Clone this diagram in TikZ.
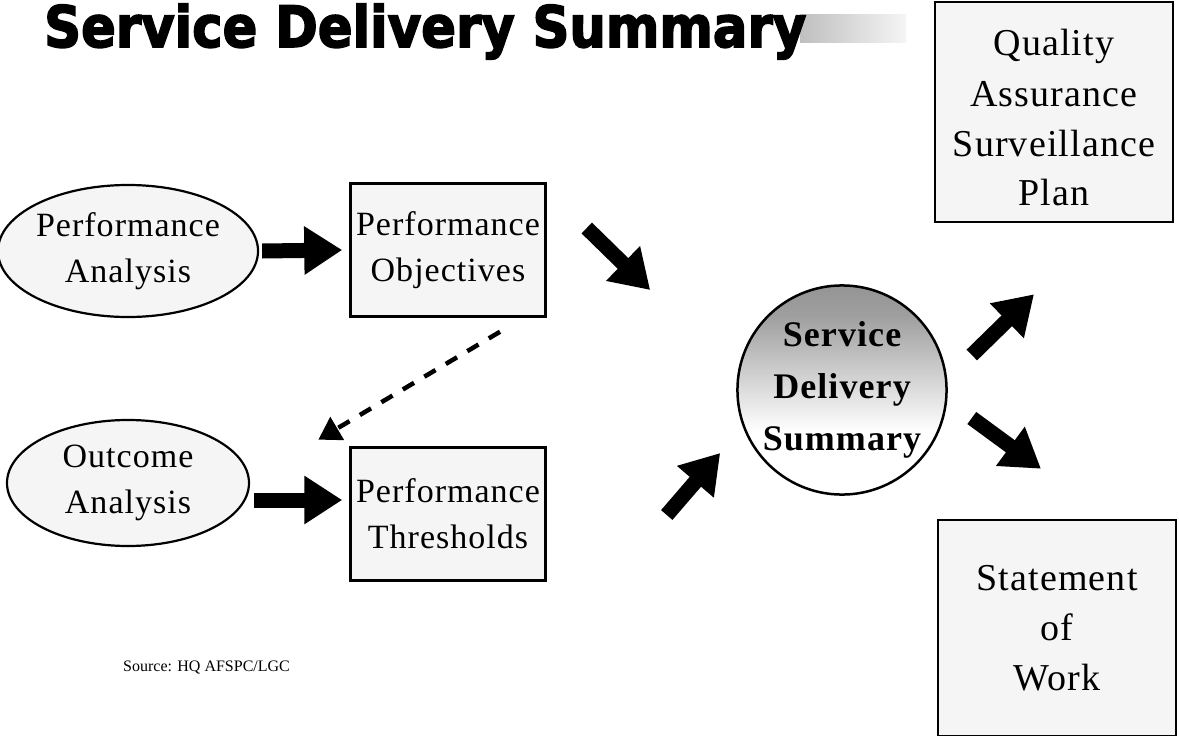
\documentclass[tikz,border=0pt]{standalone}
\usepackage{fontspec}
\setmainfont{Liberation Serif}
\newfontfamily\titlefont[FakeBold=3]{DejaVu Sans}
\newfontfamily\lblfont[LetterSpace=3]{Liberation Serif}
\usetikzlibrary{arrows.meta,calc,shapes.geometric}
\pgfdeclareverticalshading{sdsshade}{100bp}{color(0bp)=(white); color(40bp)=(white); color(68bp)=(black!38); color(100bp)=(black!55)}
\begin{document}
\begin{tikzpicture}[x=1pt,y=-1pt,
  lbl/.style={font=\lblfont\fontsize{34}{46}\selectfont, align=center, text=black},
  boxnode/.style={draw, line width=2.5pt, fill=black!4, minimum width=195pt, minimum height=133pt, inner sep=0pt, lbl},
  ovalnode/.style={ellipse, draw, line width=2.2pt, fill=black!4, minimum width=242pt, minimum height=132pt, inner sep=0pt, lbl},
  bigbox/.style={draw, line width=2.5pt, fill=black!4, minimum width=238pt, inner sep=0pt},
  bigtext/.style={lbl, font=\lblfont\fontsize{38}{50}\selectfont, inner sep=0pt},
  blockarrow/.style={line width=15pt, -{Triangle[length=38pt,width=46pt]}},
  dasharrow/.style={line width=4.5pt, dash pattern=on 13pt off 12pt, -{Triangle[length=22pt,width=26pt]}}
]
\useasboundingbox (0,0) rectangle (1179,736);
\fill[white] (0,0) rectangle (1179,736);

% title
\shade[left color=black!25, right color=black!4] (800,14) rectangle (906,42);
\node[anchor=base west, inner sep=0pt] (title) at (44,47)
  {\titlefont\bfseries\fontsize{57}{57}\selectfont\resizebox{762pt}{\height}{Service Delivery Summary}};

% nodes
\node[bigbox, minimum height=220pt] (qasp) at (1054,112) {};
\node[bigtext] (qasptext) at (1054,118) {Quality\\Assurance\\Surveillance\\Plan};
\node[ovalnode] (pa) at (128,251) {Performance\\Analysis};
\node[boxnode] (po) at (448,250) {Performance\\Objectives};
\node[ovalnode, minimum height=126pt] (oa) at (128,483) {Outcome\\Analysis};
\node[boxnode] (pt) at (448,514) {Performance\\Thresholds};
\node[circle, draw, line width=2.5pt, shading=sdsshade, minimum size=198pt, inner sep=0pt,
      font=\lblfont\bfseries\fontsize{36}{52}\selectfont, align=center] (sds) at (842,390) {Service\\Delivery\\Summary};
\node[bigbox, minimum height=216pt] (sow) at (1057,628) {};
\node[bigtext] (sowtext) at (1057,628) {Statement\\of\\Work};

\node[anchor=base west, inner sep=0pt, font=\fontsize{16}{16}\selectfont] (src) at (123,671) {Source: HQ AFSPC/LGC};

% connectors
\draw[blockarrow] ($(pa.east)+(3,0)$) -- ($(po.west)+(-7,0)$);
\draw[blockarrow] ($(oa.east)+(4,17)$) -- ($(pt.west)+(-7,-14)$);
\draw[blockarrow] ($(po.east)+(40,-22)$) -- ($(sds.west)+(-86,-100)$);
\draw[blockarrow] ($(pt.east)+(120,1)$) -- ($(sds.west)+(-16,63)$);
\draw[blockarrow] ($(sds.east)+(24,-35)$) -- ($(qasp.south)+(-20,71)$);
\draw[blockarrow] ($(sds.east)+(24,28)$) -- ($(sow.north)+(-16,-50)$);
\draw[dasharrow] ($(po.south)+(52,14)$) -- ($(oa.north east)+(104,2)$);
\end{tikzpicture}
\end{document}
